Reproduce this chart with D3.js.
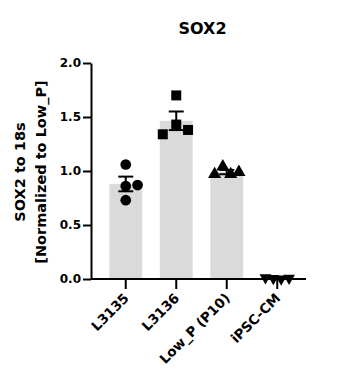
<!DOCTYPE html>
<html>
<head>
<meta charset="utf-8">
<script src="https://cdn.jsdelivr.net/npm/d3@7"></script>
<style>
  body { margin: 0; background: #fff; }
  text { font-family: "DejaVu Sans", sans-serif; font-weight: bold; fill: #000; }
</style>
</head>
<body>
<div id="chart"></div>
<script>
var svgWidth = 342;
var svgHeight = 382;

var margin = { top: 63, right: 36, bottom: 103, left: 91 };
var width = svgWidth - margin.left - margin.right;
var height = svgHeight - margin.top - margin.bottom;

// data
var groups = ["L3135", "L3136", "Low_P (P10)", "iPSC-CM"];
var means = [0.88, 1.465, 0.99, 0.01];
var sems = [0.068, 0.086, 0.02, 0.003];
var points = [
  [1.06, 0.86, 0.87, 0.73],
  [1.70, 1.34, 1.43, 1.38],
  [0.97, 1.04, 0.97, 0.99],
  [0.012, 0.006, 0.0, 0.008]
];
// horizontal scatter of each replicate, as a share of the bar width
var jitter = [
  [0, 0, 0.36, 0],
  [0, -0.41, 0, 0.36],
  [-0.37, -0.12, 0.12, 0.37],
  [-0.36, -0.12, 0.12, 0.36]
];
var shapes = [d3.symbolCircle, d3.symbolSquare, d3.symbolTriangle, d3.symbolTriangle];
var yTicks = [0, 0.5, 1.0, 1.5, 2.0];

var svg = d3.select("#chart")
  .append("svg")
  .attr("width", svgWidth)
  .attr("height", svgHeight);

var chartGroup = svg.append("g")
  .attr("transform", `translate(${margin.left}, ${margin.top})`);

var xScale = d3.scaleBand()
  .domain(groups)
  .range([9.5, 211.5])
  .paddingInner(0.35)
  .paddingOuter(0.175);

var yScale = d3.scaleLinear()
  .domain([0, 2])
  .range([height, 0]);

// bars
chartGroup.selectAll(".bar")
  .data(groups)
  .enter()
  .append("rect")
  .attr("class", "bar")
  .attr("x", d => xScale(d))
  .attr("width", xScale.bandwidth())
  .attr("y", (d, i) => yScale(means[i]))
  .attr("height", (d, i) => height - yScale(means[i]))
  .attr("fill", "#dadada");

// axes
var bottomAxis = d3.axisBottom(xScale).tickSizeInner(10).tickSizeOuter(0).tickFormat("");
var leftAxis = d3.axisLeft(yScale).tickValues(yTicks).tickSize(8).tickSizeOuter(0).tickFormat(d3.format(".1f"));

var xAxis = chartGroup.append("g")
  .attr("transform", `translate(0, ${height})`)
  .call(bottomAxis);
xAxis.select(".domain").attr("d", `M0,0H${width}`);

var yAxis = chartGroup.append("g")
  .call(leftAxis);

chartGroup.selectAll(".domain, .tick line")
  .attr("stroke", "#000")
  .attr("stroke-width", 2);

yAxis.selectAll("text")
  .attr("x", -10)
  .style("font-size", "12px");

// rotated category labels
xAxis.selectAll(".tick").append("text")
  .text(d => d)
  .attr("text-anchor", "end")
  .attr("transform", "translate(4, 20) rotate(-45)")
  .style("font-size", "13.5px");

// replicate points
groups.forEach(function (g, i) {
  var cx = xScale(g) + xScale.bandwidth() / 2;
  var sizes = [90, 100, 75, 60];
  var sym = d3.symbol().type(shapes[i]).size(sizes[i]);
  chartGroup.selectAll(".pt" + i)
    .data(points[i])
    .enter()
    .append("path")
    .attr("d", sym)
    .attr("fill", "#000")
    .attr("transform", (d, j) => `translate(${cx + jitter[i][j] * xScale.bandwidth()}, ${yScale(d)})` + (i === 3 ? " rotate(180)" : ""));
});

// mean +/- SEM
groups.forEach(function (g, i) {
  var cx = xScale(g) + xScale.bandwidth() / 2;
  var eb = chartGroup.append("g").attr("stroke", "#000").attr("stroke-width", 2);
  eb.append("line")
    .attr("x1", cx).attr("x2", cx)
    .attr("y1", yScale(means[i] - sems[i]))
    .attr("y2", yScale(means[i] + sems[i]));
  [means[i] - sems[i], means[i] + sems[i]].forEach(function (v) {
    eb.append("line")
      .attr("x1", cx - 7.5).attr("x2", cx + 7.5)
      .attr("y1", yScale(v)).attr("y2", yScale(v));
  });
});

// title
svg.append("text")
  .attr("x", margin.left + width / 2 + 4)
  .attr("y", 34)
  .attr("text-anchor", "middle")
  .style("font-size", "16px")
  .text("SOX2");

// y label
var yLabel = svg.append("text")
  .attr("transform", `translate(0, ${margin.top + height / 2 + 1}) rotate(-90)`)
  .attr("text-anchor", "middle")
  .style("font-size", "14.5px");
yLabel.append("tspan").attr("x", 0).attr("y", 25).text("SOX2 to 18s");
yLabel.append("tspan").attr("x", 0).attr("y", 46).text("[Normalized to Low_P]");
</script>
</body>
</html>
